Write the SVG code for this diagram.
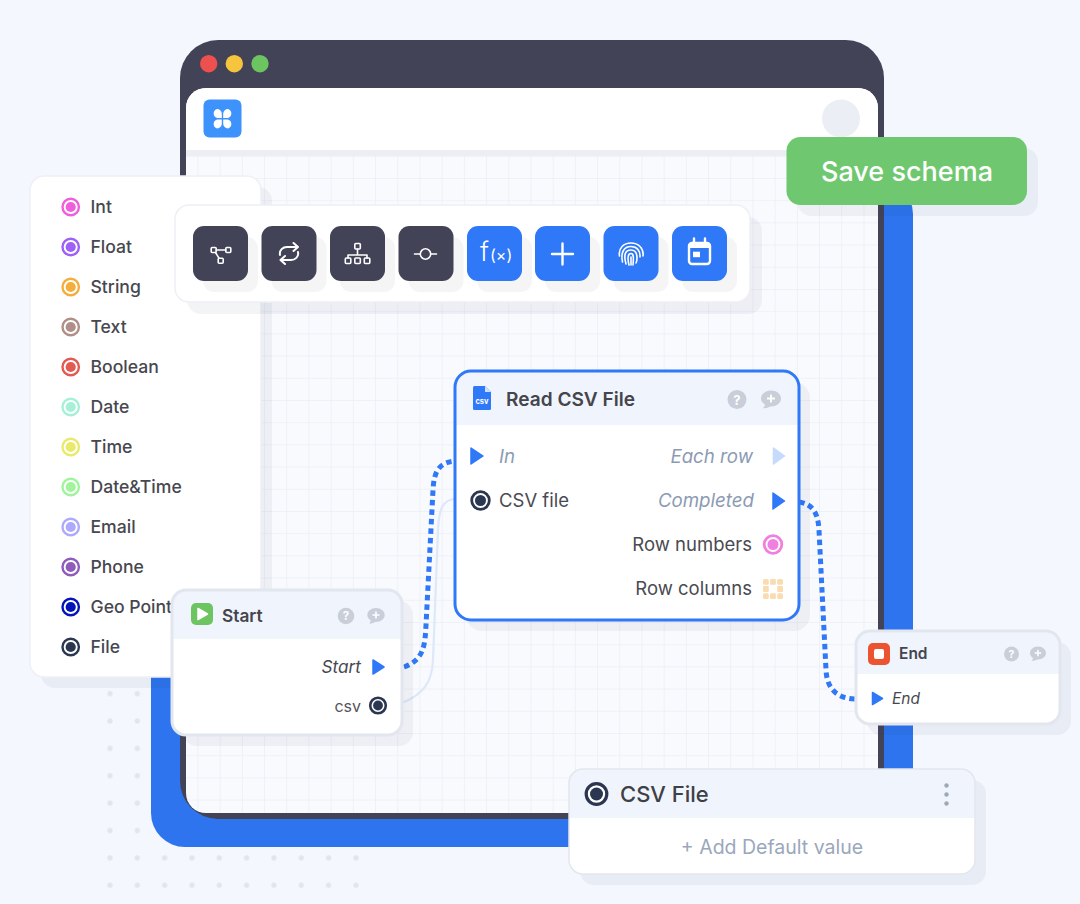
<svg xmlns="http://www.w3.org/2000/svg" width="1080" height="904" viewBox="0 0 1080 904">
<style>
text{font-family:Inter,"Noto Sans","Liberation Sans",sans-serif}
.item{font-size:17.6px;fill:#47474f;font-weight:500}
.it{font-style:italic;fill:#8c9bb3;font-size:18.7px}
.lb{fill:#4a4a52;font-size:18.500px}
.end{text-anchor:end}
.title{font-weight:600;fill:#45454c}
.shadow{fill:#2a3560;opacity:.055}
.bshadow{fill:#000;opacity:.04}
.dark{fill:#424357}
.blue{fill:#2f78f7}
.ic{fill:none;stroke:#fff;stroke-width:1.6;stroke-linecap:round;stroke-linejoin:round}
.head{fill:#f0f5fd}
.gray{fill:#c9ced8}
.tri{fill:#2f78f7;stroke:#2f78f7;stroke-width:1.5;stroke-linejoin:round}
</style>
<defs>
<pattern id="grid" patternUnits="userSpaceOnUse" x="197.5" y="155.8" width="22.2" height="22.2"><path d="M0 0V22.2M0 0H22.2" fill="none" stroke="#ecEef6" stroke-width="1.4"/></pattern>
<pattern id="dots" patternUnits="userSpaceOnUse" x="96.3" y="680" width="27.33" height="27.37"><circle cx="13.67" cy="13.68" r="2.6" fill="#e5e3ee"/></pattern>
<g id="ring"><circle r="8.2" fill="#fff" stroke="currentColor" stroke-width="2.4"/><circle r="5.1" fill="currentColor"/></g>
<clipPath id="rc"><rect x="455" y="371" width="344" height="249" rx="16"/></clipPath>
<clipPath id="sc"><rect x="172" y="590" width="230" height="145" rx="14"/></clipPath>
<clipPath id="ec"><rect x="856" y="631" width="204" height="93" rx="14"/></clipPath>
<clipPath id="cc"><rect x="569" y="769" width="406" height="105" rx="14"/></clipPath>
</defs>
<rect width="1080" height="904" fill="#f4f7fe"/>
<rect x="96.3" y="680" width="273.3" height="219" fill="url(#dots)"/>
<g id="window">
<rect x="151" y="180" width="762" height="667" rx="34" fill="#2d74ee"/>
<rect x="180" y="40" width="704" height="779" rx="38" fill="#424357"/>
<rect x="186" y="88" width="692" height="725" rx="20" fill="#f9fafe"/>
<rect x="186" y="88" width="692" height="725" rx="20" fill="url(#grid)"/>
<path d="M186 150H878V156H186Z" fill="#eceef4"/>
<path d="M186 150V108a20 20 0 0 1 20-20H858a20 20 0 0 1 20 20V150Z" fill="#fff"/>
<circle cx="208.7" cy="63.7" r="8.7" fill="#ee5050"/>
<circle cx="234.3" cy="63.7" r="8.7" fill="#f6c43d"/>
<circle cx="260" cy="63.7" r="8.7" fill="#6cc561"/>
<rect x="203.5" y="99.5" width="38" height="38" rx="6" fill="#3e92fc"/>
<g fill="#fff"><path d="M217 109a4.700 4.700 0 0 1 4.800 4.800V118H217a4.700 4.700 0 0 1 0-9Z"/><path d="M228 109a4.700 4.700 0 0 0-4.800 4.800V118H228a4.700 4.700 0 0 0 0-9Z"/><path d="M217 128.500a4.700 4.700 0 0 0 4.800-4.800V119.500H217a4.700 4.700 0 0 0 0 9Z"/><path d="M228 128.500a4.700 4.700 0 0 1-4.800-4.800V119.500H228a4.700 4.700 0 0 1 0 9Z"/></g>
<circle cx="841" cy="118.5" r="19" fill="#eceef6"/>
</g>
<g id="connectors" fill="none" stroke-linecap="butt">
<path d="M402 703C424 694 432 682 433 660L438 530C439 510 442 499 456 499" stroke="#dde8f8" stroke-width="2.200"/>
<path d="M404 667C424 660 425 645 426 625L433 490C434 470 440 462 456 461" stroke="#2f78f7" stroke-width="5" stroke-dasharray="5.500 4"/>
<path d="M799 502C812 504 818 512 819 530L826 670C827 690 838 699 857 699" stroke="#2f78f7" stroke-width="5" stroke-dasharray="5.500 4"/>
</g>
<g id="type-list">
<rect x="41" y="187" width="231" height="501" rx="14" class="shadow"/>
<rect x="30" y="176" width="231" height="501" rx="14" fill="#fff" stroke="#eef0f6" stroke-width="1.5"/>
<use href="#ring" x="70.7" y="207" color="#ef5fdc"/><text class="item" x="90.500" y="213">Int</text>
<use href="#ring" x="70.7" y="247" color="#9f60f5"/><text class="item" x="90.500" y="253">Float</text>
<use href="#ring" x="70.7" y="287" color="#f4ae3d"/><text class="item" x="90.500" y="293">String</text>
<use href="#ring" x="70.7" y="327" color="#b08f88"/><text class="item" x="90.500" y="333">Text</text>
<use href="#ring" x="70.7" y="367" color="#e25a52"/><text class="item" x="90.500" y="373">Boolean</text>
<use href="#ring" x="70.7" y="407" color="#a7f0d8"/><text class="item" x="90.500" y="413">Date</text>
<use href="#ring" x="70.7" y="447" color="#e9ea6c"/><text class="item" x="90.500" y="453">Time</text>
<use href="#ring" x="70.7" y="487" color="#a0f59c"/><text class="item" x="90.500" y="493">Date&amp;Time</text>
<use href="#ring" x="70.7" y="527" color="#aeaafb"/><text class="item" x="90.500" y="533">Email</text>
<use href="#ring" x="70.7" y="567" color="#8f5cbc"/><text class="item" x="90.500" y="573">Phone</text>
<use href="#ring" x="70.7" y="607" color="#0514b8"/><text class="item" x="90.500" y="613">Geo Point</text>
<use href="#ring" x="70.7" y="647" color="#2b3650"/><text class="item" x="90.500" y="653">File</text>
</g>
<g id="toolbar">
<rect x="187" y="217" width="575" height="97" rx="14" class="shadow"/>
<rect x="175" y="205" width="575" height="97" rx="14" fill="#fff" stroke="#eef0f6" stroke-width="1.5"/>
<rect x="203" y="237" width="55" height="55" rx="11" class="bshadow"/><rect x="271.5" y="237" width="55" height="55" rx="11" class="bshadow"/><rect x="340" y="237" width="55" height="55" rx="11" class="bshadow"/><rect x="408.5" y="237" width="55" height="55" rx="11" class="bshadow"/><rect x="477" y="237" width="55" height="55" rx="11" class="bshadow"/><rect x="545" y="237" width="55" height="55" rx="11" class="bshadow"/><rect x="613.5" y="237" width="55" height="55" rx="11" class="bshadow"/><rect x="682" y="237" width="55" height="55" rx="11" class="bshadow"/>
<rect x="193" y="226" width="55" height="55" rx="11" class="dark"/><rect x="261.5" y="226" width="55" height="55" rx="11" class="dark"/><rect x="330" y="226" width="55" height="55" rx="11" class="dark"/><rect x="398.5" y="226" width="55" height="55" rx="11" class="dark"/>
<rect x="467" y="226" width="55" height="55" rx="11" class="blue"/><rect x="535" y="226" width="55" height="55" rx="11" class="blue"/><rect x="603.5" y="226" width="55" height="55" rx="11" class="blue"/><rect x="672" y="226" width="55" height="55" rx="11" class="blue"/>
<g class="ic">
<rect x="211.2" y="247.5" width="5" height="5" rx="1"/><rect x="225.8" y="247.5" width="5" height="5" rx="1"/><rect x="218.2" y="258.2" width="5" height="5" rx="1"/><path d="M216.2 250H225.8M215.5 252.5L219 258.2"/>
<path d="M280 255C279 250 283 247 287 247H298M293.500 243L298 247L293.500 251M298 252C299 257 295 260 291 260H280.500M285 256L280.500 260L285 264" stroke-width="2"/>
<rect x="354.8" y="243.5" width="5.5" height="5.5" rx="1"/><path d="M357.5 249V255M348 258V255H367V258"/><rect x="345.3" y="258" width="5.5" height="5.5" rx="1"/><rect x="354.8" y="258" width="5.5" height="5.5" rx="1"/><rect x="364.3" y="258" width="5.5" height="5.5" rx="1"/>
<circle cx="425.5" cy="254" r="5.2"/><path d="M414.5 254H420.3M430.7 254H436.5"/>
</g>
<text x="480" y="261" font-size="26" font-weight="300" fill="#fff">f</text><text x="490" y="261" font-size="16" fill="#fff">(×)</text>
<path d="M552 254H573M562.5 243.5V264.5" fill="none" stroke="#fff" stroke-width="2.4" stroke-linecap="round"/>
<g class="ic">
<path d="M619.500 256C618 248 624 243 631 243C638 243 644 248 643 256"/>
<path d="M622.500 262C620.500 252 624 246.500 631 246.500C637 246.500 640.500 251 640 257"/>
<path d="M626 264C623.500 255 625 250 631 250C636 250 637 254 637 258C637 260 636.500 262 636 263"/>
<path d="M629 265C627.500 259 627.500 253.500 631 253.500C634 253.500 633.500 259 633 265"/>
<path d="M631 257V265"/>
</g>
<rect x="689" y="243" width="21" height="21" rx="3" fill="none" stroke="#fff" stroke-width="2.4"/>
<path d="M689 243H710V248H689Z" fill="#fff"/>
<path d="M694 238.500V243M705 238.500V243" stroke="#fff" stroke-width="2.4" stroke-linecap="round"/>
<rect x="693" y="251.700" width="7" height="5.500" fill="#fff"/>
</g>
<g id="node-read-csv">
<rect x="466" y="382" width="344" height="249" rx="16" class="shadow"/>
<rect x="455" y="371" width="344" height="249" rx="16" fill="#fff"/>
<rect x="455" y="371" width="344" height="54" class="head" clip-path="url(#rc)"/>
<rect x="455" y="371" width="344" height="249" rx="16" fill="none" stroke="#2f78f7" stroke-width="3"/>
<path d="M474.500 386H485L491 392V408.500a1.500 1.500 0 0 1-1.500 1.500H474.500a1.500 1.500 0 0 1-1.500-1.500V387.500a1.500 1.500 0 0 1 1.500-1.500Z" class="blue"/>
<path d="M485 386L491 392H485Z" fill="#cfe0fd"/>
<text x="482" y="403.500" font-size="7.500" font-weight="700" fill="#fff" text-anchor="middle">csv</text>
<text class="title" x="506" y="405.500" font-size="19.100">Read CSV File</text>
<circle cx="737" cy="399.500" r="9.500" class="gray"/><text x="737" y="404.500" font-size="13" font-weight="700" fill="#fff" text-anchor="middle">?</text>
<path d="M771 390.500c5.500 0 10 3.500 10 8s-4.500 8-10 8h-1c-2 1.500-4.500 2-7 1.500c1-.8 1.800-2 2-3.500c-2.500-1.500-4-3.600-4-6c0-4.500 4.500-8 10-8Z" class="gray"/><path d="M767 398.500H775M771 394.500V402.500" stroke="#fff" stroke-width="1.800"/>
<path d="M471 448L483 456L471 464Z" class="tri"/>
<text class="it" x="499" y="463">In</text>
<text class="it end" x="753" y="463">Each row</text>
<path d="M773.500 448L784.500 456L773.500 464Z" fill="#c5dafc" stroke="#c5dafc" stroke-width="1.500" stroke-linejoin="round"/>
<circle cx="480.500" cy="500.500" r="8.800" fill="#fff" stroke="#2b3650" stroke-width="2.800"/><circle cx="480.500" cy="500.500" r="5.500" fill="#2b3650"/>
<text class="lb" x="499" y="507">CSV file</text>
<text class="it end" x="754" y="507">Completed</text>
<path d="M773 493L784.500 501L773 509Z" class="tri"/>
<text class="lb end" x="752" y="551">Row numbers</text>
<circle cx="773" cy="544.500" r="8.800" fill="#fff" stroke="#f07fe0" stroke-width="2.800"/><circle cx="773" cy="544.500" r="5.500" fill="#f07fe0"/>
<text class="lb end" x="752" y="595">Row columns</text>
<g fill="#fbdcb0"><rect x="763" y="579" width="5.800" height="5.800" rx="1.500"/><rect x="770.100" y="579" width="5.800" height="5.800" rx="1"/><rect x="777.200" y="579" width="5.800" height="5.800" rx="1.500"/><rect x="763" y="586.100" width="5.800" height="5.800" rx="1"/><rect x="777.200" y="586.100" width="5.800" height="5.800" rx="1"/><rect x="763" y="593.200" width="5.800" height="5.800" rx="1.500"/><rect x="770.100" y="593.200" width="5.800" height="5.800" rx="1"/><rect x="777.200" y="593.200" width="5.800" height="5.800" rx="1.500"/></g>
</g>
<g id="node-start">
<rect x="183" y="601" width="230" height="145" rx="14" class="shadow"/>
<rect x="172" y="590" width="230" height="145" rx="14" fill="#fff"/>
<rect x="172" y="590" width="230" height="49" class="head" clip-path="url(#sc)"/>
<rect x="172" y="590" width="230" height="145" rx="14" fill="none" stroke="#e2e6ee" stroke-width="3"/>
<rect x="191" y="603" width="22" height="22" rx="5" fill="#6cc561"/>
<path d="M198 608.500L207.500 614L198 619.500Z" fill="#fff" stroke="#fff" stroke-width="1.500" stroke-linejoin="round"/>
<text class="title" x="222" y="621.500" font-size="17.300">Start</text>
<circle cx="346" cy="616" r="8.300" class="gray"/><text x="346" y="620.300" font-size="11.500" font-weight="700" fill="#fff" text-anchor="middle">?</text>
<path d="M376 608c4.800 0 8.700 3.100 8.700 7s-3.900 7-8.700 7h-1c-1.800 1.300-3.900 1.800-6 1.300c.9-.7 1.600-1.700 1.700-3c-2.200-1.300-3.400-3.200-3.400-5.300c0-3.900 3.900-7 8.700-7Z" class="gray"/><path d="M372.500 615H379.500M376 611.500V618.500" stroke="#fff" stroke-width="1.600"/>
<text class="end" x="361" y="673" font-size="17.200" font-style="italic" fill="#47474f">Start</text>
<path d="M373 660L384 667L373 674Z" class="tri"/>
<text class="end" x="361" y="712" font-size="16" fill="#55555c">csv</text>
<circle cx="378" cy="705.500" r="7.800" fill="#fff" stroke="#2b3650" stroke-width="2.600"/><circle cx="378" cy="705.500" r="4.900" fill="#2b3650"/>
</g>
<g id="node-end">
<rect x="867" y="642" width="204" height="93" rx="14" class="shadow"/>
<rect x="856" y="631" width="204" height="93" rx="14" fill="#fff"/>
<rect x="856" y="631" width="204" height="43" class="head" clip-path="url(#ec)"/>
<rect x="856" y="631" width="204" height="93" rx="14" fill="none" stroke="#e2e6ee" stroke-width="3"/>
<rect x="868" y="643" width="22" height="22" rx="5" fill="#ec5330"/>
<rect x="874" y="649" width="10" height="10" rx="2" fill="#fff"/>
<text class="title" x="899" y="659" font-size="15.500">End</text>
<circle cx="1011.500" cy="654" r="7.500" class="gray"/><text x="1011.500" y="658" font-size="10.500" font-weight="700" fill="#fff" text-anchor="middle">?</text>
<path d="M1038 646.500c4.400 0 8 2.900 8 6.500s-3.600 6.500-8 6.500h-1c-1.600 1.200-3.500 1.600-5.500 1.200c.8-.6 1.400-1.500 1.500-2.700c-1.900-1.200-3-2.900-3-5c0-3.600 3.600-6.500 8-6.500Z" class="gray"/><path d="M1034.800 653H1041.200M1038 649.800V656.200" stroke="#fff" stroke-width="1.500"/>
<path d="M872.500 692.500L882.500 698.500L872.500 704.500Z" class="tri"/>
<text x="892" y="704" font-size="15.500" font-style="italic" fill="#47474f">End</text>
</g>
<g id="node-csv-file">
<rect x="580" y="780" width="406" height="105" rx="14" class="shadow"/>
<rect x="569" y="769" width="406" height="105" rx="14" fill="#fff"/>
<rect x="569" y="769" width="406" height="49" class="head" clip-path="url(#cc)"/>
<rect x="569" y="769" width="406" height="105" rx="14" fill="none" stroke="#e3e6ec" stroke-width="1.500"/>
<circle cx="596.500" cy="794" r="10.300" fill="#fff" stroke="#2b3650" stroke-width="3.200"/><circle cx="596.500" cy="794" r="6.500" fill="#2b3650"/>
<text x="620" y="802" font-size="22" font-weight="500" fill="#3f4046">CSV File</text>
<g fill="#a0a8b8"><circle cx="946.500" cy="785.500" r="2.200"/><circle cx="946.500" cy="794.500" r="2.200"/><circle cx="946.500" cy="803.500" r="2.200"/></g>
<text x="772" y="854" font-size="19.500" fill="#9aa7bd" text-anchor="middle">+ Add Default value</text>
</g>
<g id="save-button">
<rect x="797.500" y="148" width="240.500" height="68" rx="14" class="shadow"/>
<rect x="786.500" y="137" width="240.500" height="68" rx="14" fill="#6fc86f"/>
<text x="907" y="181" font-size="27" font-weight="500" fill="#fff" text-anchor="middle">Save schema</text>
</g>
</svg>
